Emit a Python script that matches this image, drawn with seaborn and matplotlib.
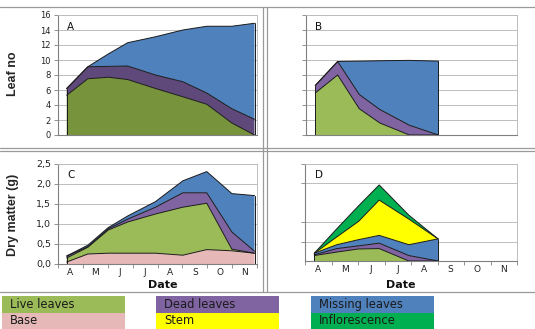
import numpy as np
import pandas as pd
import seaborn as sns
import matplotlib
matplotlib.use("Agg")
import matplotlib.pyplot as plt
from matplotlib.patches import Rectangle
from matplotlib.lines import Line2D

# Sampling dates, in months after 1 April
dates = [0.35, 1.2, 2.02, 2.8, 3.92, 5.02, 5.98, 6.99, 7.9]
month_labels = ["A", "M", "J", "J", "A", "S", "O", "N"]

# Panel A: leaf numbers, first planting
a_live = [5.3, 7.5, 7.7, 7.4, 6.2, 5.1, 4.1, 1.6, 0.0]
a_dead = [0.9, 1.6, 1.45, 1.8, 1.8, 2.0, 1.5, 1.9, 2.1]
a_missing = [0.0, 0.0, 1.65, 3.1, 5.1, 6.9, 8.9, 11.0, 12.8]

# Panel B: leaf numbers, second planting
b_live = [5.6, 8.0, 3.5, 1.6, 0.0, 0.0]
b_dead = [1.0, 1.8, 1.9, 1.8, 1.3, 0.0]
b_missing = [0.0, 0.0, 4.45, 6.5, 8.65, 9.85]

# Panel C: dry matter (g), first planting
c_base = [0.05, 0.25, 0.27, 0.27, 0.27, 0.22, 0.36, 0.33, 0.27]
c_live = [0.10, 0.17, 0.58, 0.78, 0.98, 1.20, 1.16, 0.04, 0.0]
c_dead = [0.05, 0.01, 0.03, 0.07, 0.17, 0.36, 0.26, 0.43, 0.05]
c_missing = [0.0, 0.04, 0.03, 0.08, 0.14, 0.30, 0.53, 0.96, 1.39]

# Panel D: dry matter (g), second planting
d_live = [0.14, 0.23, 0.31, 0.32, 0.0, 0.0]
d_dead = [0.02, 0.09, 0.08, 0.14, 0.14, 0.0]
d_missing = [0.04, 0.10, 0.16, 0.20, 0.28, 0.57]
d_stem = [0.0, 0.20, 0.47, 0.91, 0.66, 0.0]
d_infl = [0.0, 0.21, 0.40, 0.39, 0.10, 0.0]

legend_labels = ["Live leaves", "Base", "Dead leaves", "Stem",
                 "Missing leaves", "Inflorescence"]

COL = {
    "live": "#9BBB59", "dead": "#8064A2", "missing": "#4F81BD",
    "base": "#E6B9B8", "stem": "#FFFF00", "infl": "#00B050",
    "live_dark": "#77933C", "dead_dark": "#5F497A",
}

sns.set_theme(style="white")
plt.rcParams["font.family"] = ["DejaVu Sans"]

W, H = 535, 329
fig = plt.figure(figsize=(W / 100, H / 100), dpi=100)
fig.patch.set_facecolor("white")


def add_ax(left, top, right, bottom):
    return fig.add_axes([left / W, 1 - bottom / H, (right - left) / W, (bottom - top) / H])


def stack(ax, x, layers, colors):
    df = pd.DataFrame({"x": x})
    cum = np.zeros(len(x))
    for i, (vals, c) in enumerate(zip(layers, colors)):
        lower = cum.copy()
        cum = cum + np.asarray(vals, dtype=float)
        ax.fill_between(x, lower, cum, facecolor=c, edgecolor="none", zorder=2 + i * 0.01)
        df[f"s{i}"] = cum
        sns.lineplot(data=df, x="x", y=f"s{i}", ax=ax, color="#1a1a1a",
                     linewidth=0.7, zorder=3, estimator=None, sort=False)
    # vertical end edges of the stacked polygon
    ax.plot([x[0], x[0]], [0, cum[0]], color="#1a1a1a", lw=0.7, zorder=3)
    ax.plot([x[-1], x[-1]], [0, cum[-1]], color="#1a1a1a", lw=0.7, zorder=3)


def style_ax(ax, ymax, yticks, grid_ticks, ylabels=None, xlabels=False, letter="",
             ysize=6.0):
    ax.set_xlim(0, 8)
    ax.set_ylim(0, ymax)
    ax.set_facecolor("white")
    for y in grid_ticks:
        ax.axhline(y, color="#BDBDBD", lw=0.7, zorder=1)
    ax.set_yticks(yticks)
    if ylabels is None:
        ax.set_yticklabels([])
    else:
        ax.set_yticklabels(ylabels)
    ax.tick_params(axis="y", which="major", left=True, length=3, width=0.6,
                   color="#808080", labelsize=ysize, pad=2, labelcolor="#222222")
    if xlabels:
        ax.set_xticks(range(9))
        ax.set_xticklabels([])
        ax.set_xticks([i + 0.5 for i in range(8)], minor=True)
        ax.set_xticklabels(month_labels, minor=True)
        ax.tick_params(axis="x", which="major", bottom=True, length=3, width=0.6,
                       color="#808080")
        ax.tick_params(axis="x", which="minor", bottom=False, length=0,
                       labelsize=6.5, pad=3, labelcolor="#222222")
    else:
        ax.set_xticks([])
    ax.set_xlabel("")
    ax.set_ylabel("")
    for side in ["left", "bottom"]:
        ax.spines[side].set_color("#808080")
        ax.spines[side].set_linewidth(0.8)
    for side in ["top", "right"]:
        ax.spines[side].set_color("#BDBDBD")
        ax.spines[side].set_linewidth(0.7)
    ax.text(0.045, 0.94, letter, transform=ax.transAxes, ha="left", va="top",
            fontsize=7.5, color="#111111")


# Panel A
axA = add_ax(58, 15, 257, 135)
stack(axA, dates, [a_live, a_dead, a_missing],
      [COL["live_dark"], COL["dead_dark"], COL["missing"]])
style_ax(axA, 16, list(range(0, 17, 2)), list(range(2, 17, 2)),
         ylabels=[str(v) for v in range(0, 17, 2)], letter="A")

# Panel B
axB = add_ax(306, 15, 517, 135)
stack(axB, dates[:len(b_live)], [b_live, b_dead, b_missing],
      [COL["live"], COL["dead"], COL["missing"]])
style_ax(axB, 16, list(range(0, 17, 2)), list(range(2, 17, 2)), letter="B")

# Panel C
axC = add_ax(58, 164, 257, 264)
stack(axC, dates, [c_base, c_live, c_dead, c_missing],
      [COL["base"], COL["live"], COL["dead"], COL["missing"]])
cticks = [0, 0.5, 1.0, 1.5, 2.0, 2.5]
style_ax(axC, 2.5, cticks, cticks[1:],
         ylabels=[f"{v:.1f}".replace(".", ",") for v in cticks],
         xlabels=True, letter="C", ysize=6.8)

# Panel D
axD = add_ax(305, 164, 517, 261)
stack(axD, dates[:len(d_live)], [d_live, d_dead, d_missing, d_stem, d_infl],
      [COL["live"], COL["dead"], COL["missing"], COL["stem"], COL["infl"]])
style_ax(axD, 2.5, [0.5, 1.0, 2.0, 2.5], [0.5, 1.0, 2.0, 2.5], xlabels=True, letter="D")

# Axis titles
title_font = ["Liberation Sans Narrow", "Liberation Sans", "DejaVu Sans"]
fig.text(13 / W, 1 - 74 / H, "Leaf no", rotation=90, ha="center", va="center",
         fontsize=9, fontweight="bold", family=title_font)
fig.text(13 / W, 1 - 215 / H, "Dry matter (g)", rotation=90, ha="center", va="center",
         fontsize=9, fontweight="bold", family=title_font)
fig.text(163 / W, 1 - 285 / H, "Date", ha="center", va="center",
         fontsize=8, fontweight="bold", color="#111111")
fig.text(401 / W, 1 - 285 / H, "Date", ha="center", va="center",
         fontsize=8, fontweight="bold", color="#111111")

# Panel frame lines
frame = dict(color="#9A9A9A", lw=0.9, transform=fig.transFigure)
for y in (7, 147.5, 151, 292):
    fig.add_artist(Line2D([0, 1], [1 - y / H, 1 - y / H], **frame))
for x in (263, 266.5):
    fig.add_artist(Line2D([x / W, x / W], [1 - 7 / H, 1 - 292 / H], **frame))

# Legend boxes
boxes = [
    (2, 296, COL["live"]), (2, 312.5, COL["base"]),
    (156, 296, COL["dead"]), (156, 312.5, COL["stem"]),
    (311, 296, COL["missing"]), (311, 312.5, COL["infl"]),
]
for (x0, y0, c), label in zip(boxes, legend_labels):
    fig.add_artist(Rectangle((x0 / W, 1 - (y0 + 16.5) / H), 123 / W, 16.5 / H,
                             facecolor=c, edgecolor="none", transform=fig.transFigure))
    fig.text((x0 + 8) / W, 1 - (y0 + 8.5) / H, label, ha="left", va="center",
             fontsize=8.3, color="#1a1a1a")

fig.savefig("out.png", dpi=100, facecolor="white")
